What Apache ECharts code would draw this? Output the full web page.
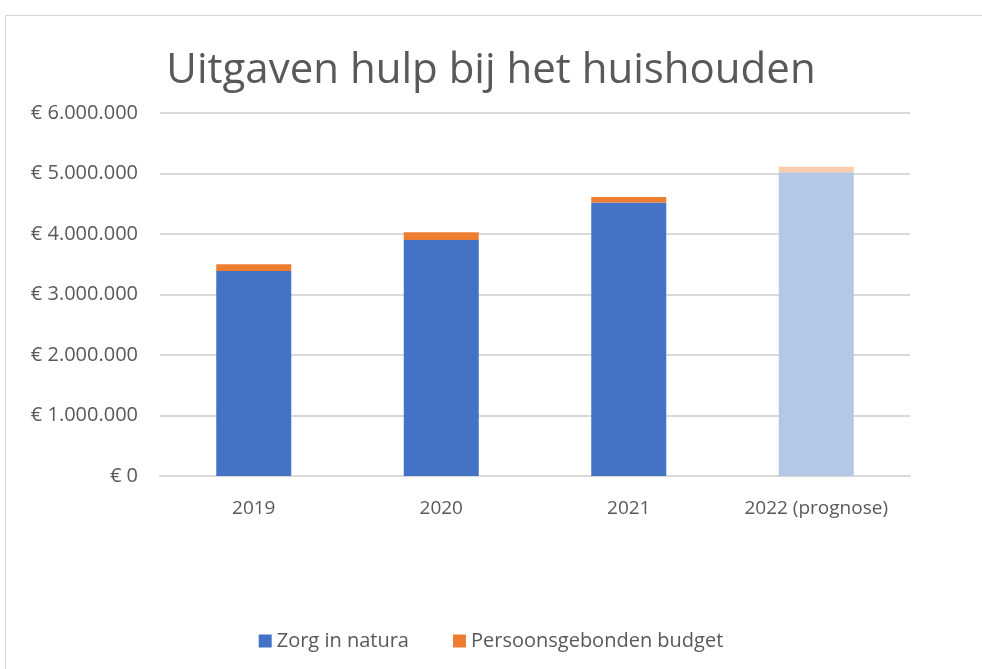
<!DOCTYPE html>
<html>
<head>
<meta charset="utf-8">
<script src="https://cdn.jsdelivr.net/npm/echarts@6/dist/echarts.min.js"></script>
<style>
  html, body { margin: 0; padding: 0; background: #fff; }
  #frame {
    position: absolute; left: 5px; top: 15px; width: 1000px; height: 700px;
    border: 1px solid #d9d9d9; box-sizing: border-box;
  }
  #chart { position: absolute; left: 0; top: 0; width: 982px; height: 669px; }
</style>
</head>
<body>
<div id="frame"></div>
<div id="chart"></div>
<script>
const categories = ['2019', '2020', '2021', '2022 (prognose)']
const zorgInNatura = [3390000, 3900000, 4520000, 5020000]
const persoonsgebondenBudget = [110000, 130000, 90000, 90000]
const yTickLabels = ['€ 0', '€ 1.000.000', '€ 2.000.000', '€ 3.000.000', '€ 4.000.000', '€ 5.000.000', '€ 6.000.000']

const blue = '#4472c4'
const orange = '#ed7d31'
const blueLight = '#b4c7e7'
const orangeLight = '#f8cbad'
const textColor = '#595959'
const font = 'Open Sans'

const chart = echarts.init(document.getElementById('chart'))

// prognose year drawn in lighter tints
const withTint = (values, light) =>
  values.map((v, i) => (i === values.length - 1 ? { value: v, itemStyle: { color: light } } : v))

const option = {
  animation: false,
  title: {
    text: 'Uitgaven hulp bij het huishouden',
    left: 'center',
    top: 45,
    textStyle: { fontFamily: font, fontSize: 42, fontWeight: 'normal', color: textColor }
  },
  grid: { left: 160, right: 72, top: 113, bottom: 193 },
  legend: {
    bottom: 13,
    left: 'center',
    itemWidth: 13,
    itemHeight: 13,
    itemGap: 44,
    icon: 'rect',
    textStyle: { fontFamily: font, fontSize: 20, color: textColor },
    data: ['Zorg in natura', 'Persoonsgebonden budget']
  },
  xAxis: {
    type: 'category',
    data: categories,
    axisLine: { lineStyle: { color: '#d9d9d9', width: 2 } },
    axisTick: { show: false },
    axisLabel: { interval: 0, fontFamily: font, fontSize: 19, color: textColor, margin: 23 }
  },
  yAxis: {
    type: 'value',
    min: 0,
    max: 6000000,
    interval: 1000000,
    axisLine: { show: false },
    axisTick: { show: false },
    splitLine: { lineStyle: { color: '#d9d9d9', width: 2 } },
    axisLabel: {
      fontFamily: font, fontSize: 20, color: textColor, margin: 22,
      formatter: (val) => yTickLabels[Math.round(val / 1000000)]
    }
  },
  series: [
    {
      name: 'Zorg in natura',
      type: 'bar',
      stack: 'total',
      barWidth: '40%',
      itemStyle: { color: blue },
      data: withTint(zorgInNatura, blueLight)
    },
    {
      name: 'Persoonsgebonden budget',
      type: 'bar',
      stack: 'total',
      barWidth: '40%',
      itemStyle: { color: orange },
      data: withTint(persoonsgebondenBudget, orangeLight)
    }
  ]
}

chart.setOption(option)
</script>
</body>
</html>
